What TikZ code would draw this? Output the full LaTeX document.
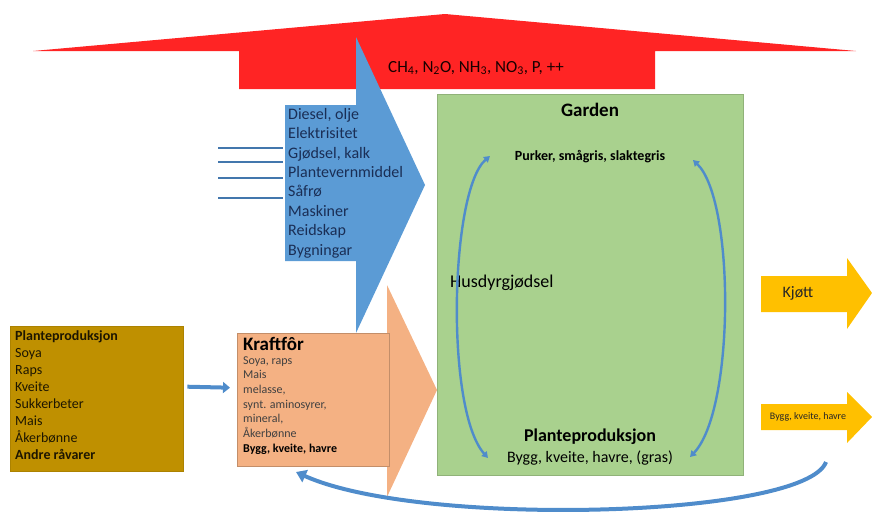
\documentclass[tikz,border=0pt]{standalone}
\usepackage{fontspec}
\setmainfont{Carlito}
\usepackage{tikz}
\usetikzlibrary{arrows.meta, positioning, calc}

\definecolor{redarrow}{HTML}{FF2424}
\definecolor{bluearrow}{HTML}{5B9BD5}
\definecolor{navytext}{HTML}{1A2E55}
\definecolor{orangebox}{HTML}{F4B183}
\definecolor{greenbox}{HTML}{A9D18E}
\definecolor{goldbox}{HTML}{BF9000}
\definecolor{yellowarrow}{HTML}{FFC000}
\definecolor{linkblue}{HTML}{4F8CCB}
\newcommand{\fsz}[2]{\fontsize{#1}{#2}\selectfont}

\begin{document}
\begin{tikzpicture}[x=1pt, y=-1pt,
  listtext/.style={inner sep=0pt, anchor=north west, align=left},
  farmtext/.style={inner sep=0pt, text=black},
  cyclearc/.style={linkblue, line width=2.4pt,
                   {Triangle[length=6pt, width=7pt]}-{Triangle[length=6pt, width=7pt]}},
  feedline/.style={linkblue!85!black, line width=1.6pt},
]
  \useasboundingbox (0,0) rectangle (872,517);

  % Emission arrow (up)
  \fill[redarrow] (445,14) -- (856,51) -- (655,51) -- (655,89) -- (239,89)
    -- (239,51) -- (33,51) -- cycle;

  % Input arrow
  \fill[bluearrow] (285,105) -- (356,105) -- (356,37) -- (425,185) -- (356,333)
    -- (356,261) -- (285,261) -- cycle;
  \node[listtext, text=navytext, font=\fsz{16}{19.4}] (inputs) at (288,108)
    {Diesel, olje\\Elektrisitet\\Gjødsel, kalk\\Plantevernmiddel\\Såfrø\\Maskiner\\Reidskap\\Bygningar};
  \foreach \y in {148, 162, 178, 198} {
    \draw[feedline] (218,\y) -- (283,\y);
  }

  \node[font=\fsz{17}{20}, text=black!90!red, inner sep=0pt] (utslepp) at (476,68)
    {CH\textsubscript{4}, N\textsubscript{2}O, NH\textsubscript{3}, NO\textsubscript{3}, P, ++};

  % Farm
  \node[fill=greenbox, draw=greenbox!85!black, line width=0.4pt, anchor=north west,
        minimum width=306pt, minimum height=381pt, inner sep=0pt] (garden) at (437,94) {};
  \node[farmtext, font=\bfseries\fsz{19}{22}] (gardenlabel) at (590,110) {Garden};
  \node[farmtext, font=\bfseries\fsz{14}{17}] (gris) at (590,157) {Purker, smågris, slaktegris};
  \node[farmtext, font=\fsz{18}{21}, anchor=west] (gjodsel) at (450,283) {Husdyrgjødsel};
  \node[farmtext, font=\bfseries\fsz{18}{21}] (plprod) at (590,437) {Planteproduksjon};
  \node[farmtext, font=\fsz{16}{19}] (korn) at (590,458) {Bygg, kveite, havre, (gras)};

  \coordinate (lt) at (490,156);
  \coordinate (lb) at (488,458);
  \coordinate (rt) at (693,160);
  \coordinate (rb) at (690,457);
  \draw[cyclearc] (lb) .. controls (445,410) and (450,190) .. (lt);
  \draw[cyclearc] (rt) .. controls (735,200) and (735,410) .. (rb);

  % Concentrate feed arrow
  \fill[orangebox] (387,285) -- (437,390) -- (387,497) -- cycle;
  \node[fill=orangebox, draw=orangebox!80!black, line width=0.4pt, anchor=north west,
        minimum width=152pt, minimum height=133pt, inner sep=0pt] (kraftfor) at (237,333) {};
  \node[listtext, text=black!75, font=\fsz{12}{14.7}] (kraftfortext) at (243,337)
    {\textcolor{black}{\bfseries\fsz{19}{22}Kraftfôr}\\[-1pt]
     Soya, raps\\Mais\\melasse,\\synt. aminosyrer,\\mineral,\\Åkerbønne\\
     \textcolor{black}{\bfseries Bygg, kveite, havre}};

  % Raw materials
  \node[fill=goldbox, draw=goldbox!90!black, line width=0.4pt, anchor=north west,
        minimum width=173pt, minimum height=145pt, inner sep=0pt] (ravarer) at (10,326) {};
  \node[listtext, font=\fsz{14}{17.1}, text=black!85!goldbox] (ravarertext) at (15,330)
    {\textbf{Planteproduksjon}\\Soya\\Raps\\Kveite\\Sukkerbeter\\Mais\\Åkerbønne\\\textbf{Andre råvarer}};

  \draw[linkblue, line width=4pt, -{Triangle[length=7pt, width=11pt]}]
    ([xshift=4pt, yshift=12pt]ravarer.east) -- ([xshift=-7pt, yshift=12pt]kraftfor.west);

  % Outputs
  \fill[yellowarrow] (761,276) -- (847,276) -- (847,258) -- (872,293) -- (847,329)
    -- (847,312) -- (761,312) -- cycle;
  \node[font=\fsz{16}{19}, text=black!85, inner sep=0pt] (kjott) at (798,293) {Kjøtt};
  \fill[yellowarrow] (761,404) -- (847,404) -- (847,392) -- (872,417) -- (847,443)
    -- (847,430) -- (761,430) -- cycle;
  \node[font=\fsz{10}{12}, text=black!85, inner sep=0pt] (salskorn) at (808,417) {Bygg, kveite, havre};

  % Grain back to feed
  \coordinate (retstart) at (826,462);
  \coordinate (retend) at (296,472);
  \draw[linkblue, line width=4pt, -{Triangle[length=10pt, width=13pt]}]
    (retstart) .. controls (805,518) and (420,528) .. (retend);
\end{tikzpicture}
\end{document}
